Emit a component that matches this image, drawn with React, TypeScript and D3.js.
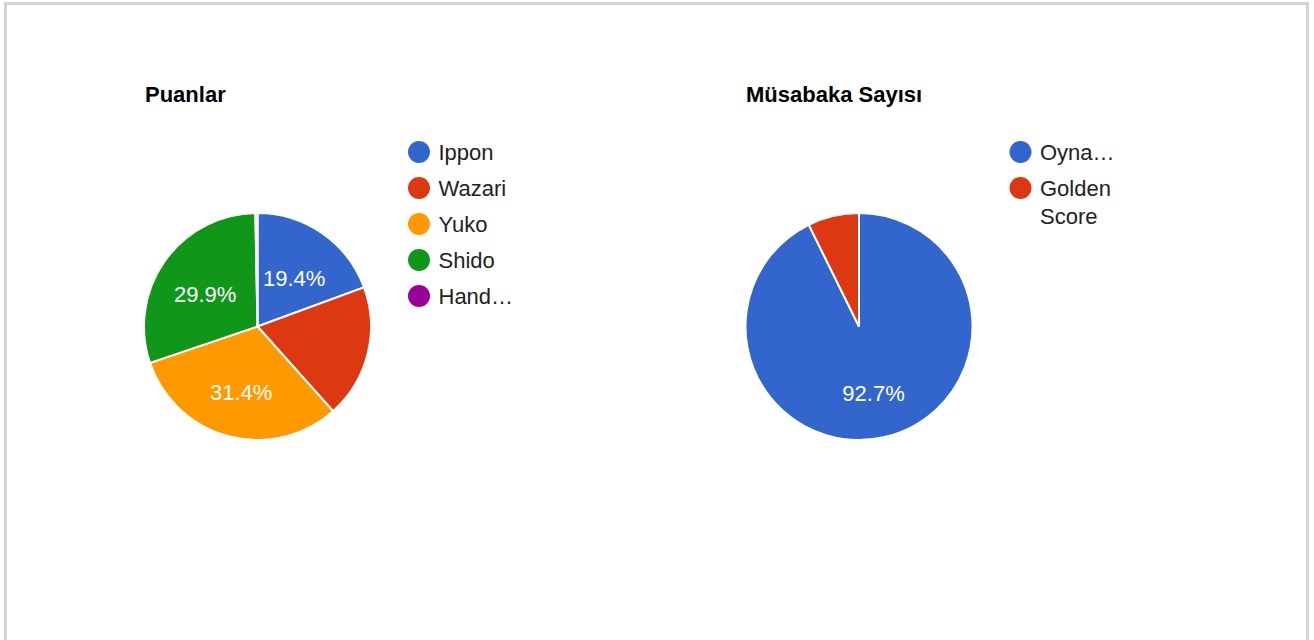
import React from "react";
import * as d3 from "d3";

const puanCategories = ["Ippon", "Wazari", "Yuko", "Shido", "Hand…"];
const puanValues = [19.4, 19.0, 31.4, 29.9, 0.3];
const puanLabelShown = [true, false, true, true, false];

const macCategories = ["Oyna…", "Golden Score"];
const macValues = [92.7, 7.3];
const macLabelShown = [true, false];

const colors = ["#3366cc", "#dc3912", "#ff9900", "#109618", "#990099"];

const FONT = "Arial, 'Liberation Sans', sans-serif";

type PieProps = {
  title: string;
  cats: string[];
  values: number[];
  shown: boolean[];
  cx: number;
  cy: number;
  r: number;
  titleX: number;
  legendX: number;
  legendLines: string[][];
};

function Pie({ title, cats, values, shown, cx, cy, r, titleX, legendX, legendLines }: PieProps) {
  const total = d3.sum(values);
  const pie = d3.pie<number>().sort(null).value((d) => d);
  const arcs = pie(values);
  const arc = d3.arc<d3.PieArcDatum<number>>().innerRadius(0).outerRadius(r);
  const labelR = 64;
  let rowY = 152;
  const rows: { y: number; lines: string[]; i: number }[] = [];
  legendLines.forEach((lines, i) => {
    rows.push({ y: rowY, lines, i });
    rowY += 36 + (lines.length - 1) * 28;
  });
  return (
    <g>
      <text x={titleX} y={102} fontFamily={FONT} fontSize={22} fontWeight="bold" fill="#000">
        {title}
      </text>
      <g transform={`translate(${cx},${cy})`}>
        {arcs.map((a, i) => (
          <path key={i} d={arc(a) || ""} fill={colors[i]} stroke="#fff" strokeWidth={2} />
        ))}
        {arcs.map((a, i) => {
          if (!shown[i]) return null;
          const mid = (a.startAngle + a.endAngle) / 2;
          const x = Math.sin(mid) * labelR;
          const y = -Math.cos(mid) * labelR + 4;
          return (
            <text
              key={"l" + i}
              x={x}
              y={y + 8}
              textAnchor="middle"
              fontFamily={FONT}
              fontSize={22}
              fill="#fff"
            >
              {((a.value / total) * 100).toFixed(1)}%
            </text>
          );
        })}
      </g>
      {rows.map((row) => (
        <g key={"lg" + row.i}>
          <circle cx={legendX} cy={row.y} r={11} fill={colors[row.i]} />
          {row.lines.map((ln, j) => (
            <text
              key={j}
              x={legendX + 19.5}
              y={row.y + 8 + j * 28}
              fontFamily={FONT}
              fontSize={22}
              fill="#222"
            >
              {ln}
            </text>
          ))}
        </g>
      ))}
    </g>
  );
}

export default function App() {
  return (
    <svg
      width={1314}
      height={640}
      style={{ position: "absolute", left: 0, top: 0, background: "#fff" }}
    >
      <rect x={0} y={0} width={1314} height={640} fill="#fff" />
      <path d="M5.5,650 L5.5,3.5 L1307.5,3.5 L1307.5,650" fill="none" stroke="#d3d3d3" strokeWidth={3} />
      <Pie
        title="Puanlar"
        cats={puanCategories}
        values={puanValues}
        shown={puanLabelShown}
        cx={257.5}
        cy={326.5}
        r={113.5}
        titleX={145}
        legendX={419}
        legendLines={puanCategories.map((c) => [c])}
      />
      <Pie
        title="Müsabaka Sayısı"
        cats={macCategories}
        values={macValues}
        shown={macLabelShown}
        cx={859}
        cy={326.5}
        r={113.5}
        titleX={746}
        legendX={1020.5}
        legendLines={[["Oyna…"], ["Golden", "Score"]]}
      />
    </svg>
  );
}
